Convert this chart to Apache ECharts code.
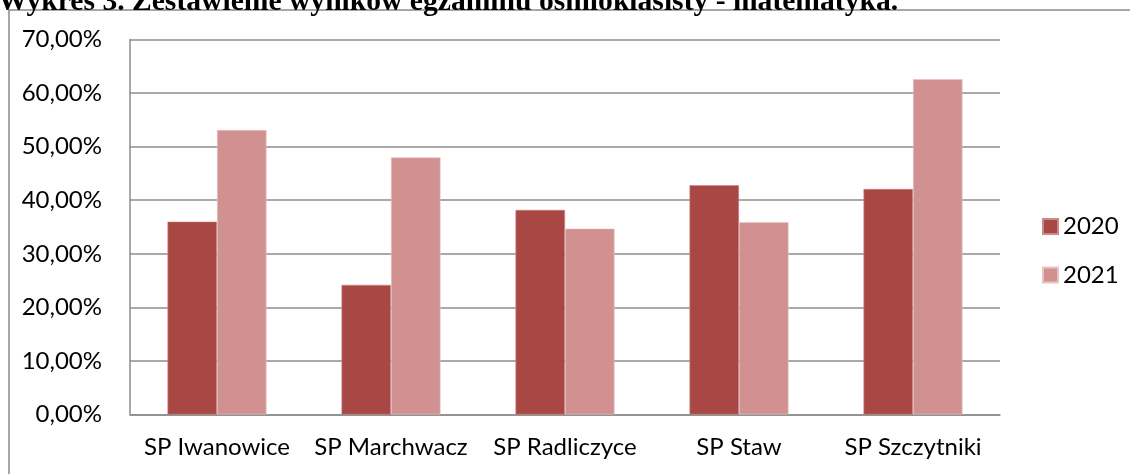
<!DOCTYPE html>
<html>
<head>
<meta charset="utf-8">
<script src="https://cdn.jsdelivr.net/npm/echarts@6/dist/echarts.min.js"></script>
<style>
html,body{margin:0;padding:0;background:#fff;}
#c{width:1130px;height:474px;}
</style>
</head>
<body>
<div id="c"></div>
<script>
const titleText = 'Wykres 3. Zestawienie wyników egzaminu ośmioklasisty - matematyka.';
const categories = ['SP Iwanowice', 'SP Marchwacz', 'SP Radliczyce', 'SP Staw', 'SP Szczytniki'];
const seriesNames = ['2020', '2021'];
const values2020 = [0.360, 0.242, 0.382, 0.428, 0.421];
const values2021 = [0.531, 0.480, 0.347, 0.359, 0.626];
const yTicks = { min: 0, max: 0.7, interval: 0.1 };

const chart = echarts.init(document.getElementById('c'), null, { renderer: 'canvas' });
const font = 'Lato';
const grey = '#8c8c8c';
chart.setOption({
  animation: false,
  backgroundColor: '#ffffff',
  graphic: [
    { type: 'rect', shape: { x: 9, y: 10, width: 1200, height: 600 }, style: { fill: 'none', stroke: '#8a8a8a', lineWidth: 1.5 }, z: 0 },
    { type: 'text', left: -2, top: -13, style: { text: titleText, font: 'bold 29.6px "Liberation Serif"', fill: '#000' }, z: 10 }
  ],
  grid: { left: 130, right: 130, top: 39.5, bottom: 59.5 },
  legend: {
    orient: 'vertical', left: 1037, top: 209.5,
    itemWidth: 15, itemHeight: 15, itemGap: 24.5,
    icon: 'rect',
    textStyle: { fontFamily: font, fontSize: 24, color: '#000', lineHeight: 24 },
    data: seriesNames
  },
  xAxis: {
    type: 'category', data: categories,
    axisLine: { show: true, lineStyle: { color: grey, width: 1.5 } },
    axisTick: { show: false },
    axisLabel: { fontFamily: font, fontSize: 24, color: '#000', margin: 21, interval: 0 }
  },
  yAxis: {
    type: 'value', min: yTicks.min, max: yTicks.max, interval: yTicks.interval,
    axisLine: { show: true, lineStyle: { color: grey, width: 1.5 } },
    axisTick: { show: false },
    splitLine: { show: true, lineStyle: { color: grey, width: 1.5 } },
    axisLabel: {
      fontFamily: font, fontSize: 24, color: '#000', margin: 28,
      formatter: v => (v * 100).toFixed(2).replace('.', ',') + '%'
    }
  },
  series: [
    { name: seriesNames[0], type: 'bar', data: values2020, barWidth: 49.5, barGap: '0%',
      itemStyle: { color: '#A94744', borderColor: '#c98a88', borderWidth: 0.6 } },
    { name: seriesNames[1], type: 'bar', data: values2021, barWidth: 49.5, barGap: '0%',
      itemStyle: { color: '#D19191', borderColor: '#e9c4c4', borderWidth: 0.6 } }
  ]
});
</script>
</body>
</html>
